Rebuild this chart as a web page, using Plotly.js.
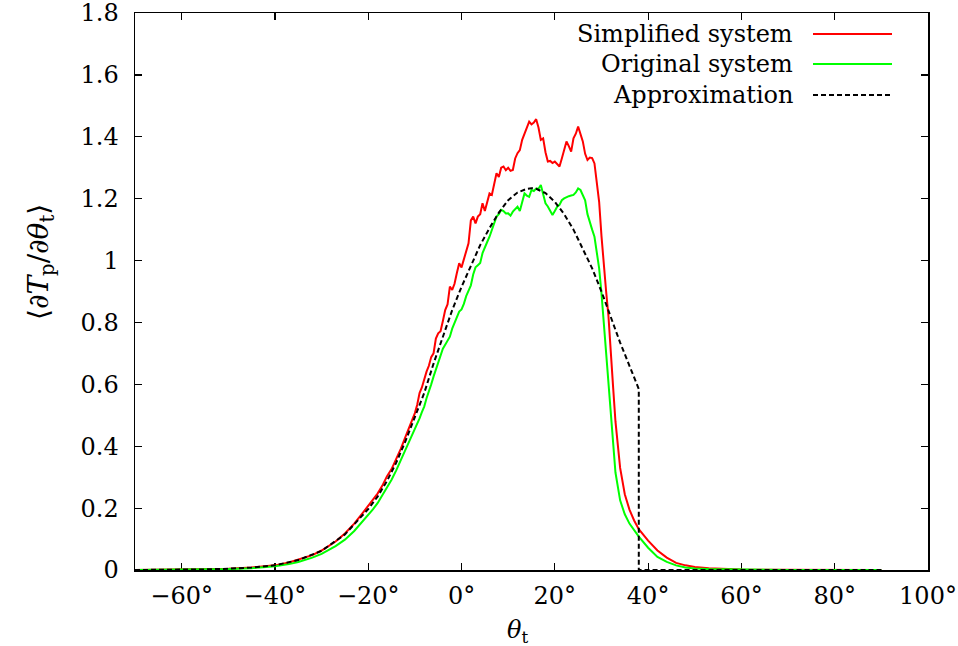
<!DOCTYPE html>
<html>
<head>
<meta charset="utf-8">
<script src="https://cdn.plot.ly/plotly-3.0.1.min.js"></script>
<style>html,body{margin:0;padding:0;background:#fff;}#chart{width:958px;height:646px;}</style>
</head>
<body>
<div id="chart"></div>
<script>
// shared angles for simulated series (degrees)
const theta = [
  -70,-65,-60,-55,-50,-45,-40,-37,-35,-32,
  -30,-27,-25,-23,-21,-20,-19,-18,-17,-16,
  -15,-14,-13,-12,-11,-10,-9.5,-9,-8.5,-8,
  -7.5,-7,-6.5,-6,-5.5,-5,-4.5,-4,-3.5,-3,
  -2.5,-2,-1.5,-1,-0.5,0,0.5,1,1.5,2,
  2.5,3,3.5,4,4.5,5,5.5,6,6.5,7,
  7.5,8,8.5,9,9.5,10,10.5,11,11.5,12,
  12.5,13,13.5,14,14.5,15,15.5,16,16.5,17,
  17.5,18,18.5,19,19.5,20,20.5,21,21.5,22,
  22.5,23,23.5,24,24.5,25,25.5,26,26.5,27,
  27.5,28,28.5,29,29.5,30,30.5,31,31.5,32,
  32.5,33,34,35,36,37,38,40,42,44,
  46,48,50,53,56,60,65,70,80,90
];
const simplified = [
  0,0.0005,0.001,0.002,0.004,0.008,0.015,0.024,0.033,0.048,
  0.063,0.092,0.118,0.150,0.188,0.207,0.226,0.247,0.272,0.302,
  0.326,0.358,0.392,0.431,0.466,0.507,0.534,0.572,0.590,0.618,
  0.641,0.660,0.688,0.700,0.748,0.765,0.772,0.805,0.840,0.858,
  0.916,0.905,0.925,0.960,0.991,0.978,1.002,1.030,1.056,1.130,
  1.142,1.120,1.142,1.150,1.185,1.160,1.190,1.217,1.212,1.250,
  1.282,1.270,1.300,1.304,1.292,1.300,1.290,1.293,1.330,1.347,
  1.357,1.390,1.411,1.425,1.449,1.440,1.446,1.457,1.430,1.390,
  1.395,1.350,1.320,1.322,1.315,1.320,1.312,1.304,1.330,1.360,
  1.385,1.370,1.352,1.395,1.410,1.433,1.410,1.385,1.345,1.325,
  1.333,1.331,1.314,1.260,1.190,1.080,0.980,0.900,0.820,0.720,
  0.590,0.480,0.330,0.245,0.195,0.160,0.132,0.095,0.063,0.040,
  0.023,0.015,0.010,0.006,0.004,0.002,0.001,0.0008,0.0003,0.0001
];
const original = [
  0,0.0003,0.0008,0.0015,0.003,0.006,0.012,0.019,0.026,0.040,
  0.052,0.077,0.098,0.126,0.160,0.178,0.196,0.216,0.240,0.266,
  0.292,0.322,0.355,0.388,0.420,0.456,0.470,0.490,0.510,0.528,
  0.555,0.575,0.600,0.625,0.648,0.668,0.690,0.715,0.728,0.742,
  0.754,0.780,0.800,0.818,0.835,0.842,0.860,0.885,0.905,0.920,
  0.955,0.978,0.985,0.992,1.024,1.045,1.060,1.077,1.100,1.118,
  1.142,1.150,1.164,1.160,1.152,1.153,1.145,1.158,1.165,1.174,
  1.160,1.185,1.217,1.210,1.206,1.228,1.225,1.233,1.232,1.244,
  1.215,1.185,1.175,1.160,1.147,1.160,1.174,1.180,1.195,1.201,
  1.205,1.208,1.210,1.212,1.220,1.233,1.228,1.210,1.195,1.150,
  1.120,1.100,1.077,1.030,0.975,0.895,0.800,0.715,0.610,0.500,
  0.400,0.315,0.225,0.180,0.150,0.127,0.108,0.072,0.042,0.026,
  0.015,0.008,0.005,0.003,0.002,0.001,0.0005,0.0003,0.0001,0
];
const thetaApprox = [
  -70,-65,-60,-55,-50,-45,-40,-35,-30,-25,
  -20,-18,-16,-14,-12,-10,-8,-6,-4,-2,
  0,2,4,6,8,10,12,14,15,16,
  18,20,22,24,26,28,30,32,34,36,
  38,38,90
];
const approximation = [
  0,0.0003,0.001,0.002,0.004,0.008,0.015,0.032,0.062,0.115,
  0.197,0.237,0.287,0.347,0.417,0.497,0.572,0.667,0.757,0.840,
  0.915,0.985,1.050,1.105,1.155,1.195,1.220,1.232,1.234,1.232,
  1.218,1.190,1.150,1.100,1.040,0.975,0.900,0.815,0.735,0.660,
  0.585,0,0
];
const seriesNames = ["Simplified system", "Original system", "Approximation"];
const xTicks = [-60,-40,-20,0,20,40,60,80,100];
const yTicks = [0,0.2,0.4,0.6,0.8,1,1.2,1.4,1.6,1.8];

const FONT = "DejaVu Serif";
const FS = 24;
const colors = ["#ff0000", "#00ff00", "#000000"];

const traces = [
  {x: theta, y: simplified, name: seriesNames[0], mode: "lines", line: {color: colors[0], width: 2}},
  {x: theta, y: original, name: seriesNames[1], mode: "lines", line: {color: colors[1], width: 2}},
  {x: thetaApprox, y: approximation, name: seriesNames[2], mode: "lines", line: {color: colors[2], width: 2, dash: "5px,3px"}}
];

// gnuplot-style legend: right-aligned text with line sample on the right
const L = 135, R = 928, T = 13, B = 570;
const px = v => (v - L) / (R - L);
const py = v => (B - v) / (B - T);
const rowsY = [34, 64, 95];
const annotations = [];
const shapes = [];
seriesNames.forEach((n, i) => {
  annotations.push({xref: "paper", yref: "paper", x: px(795), y: py(rowsY[i]), xanchor: "right", yanchor: "middle",
    text: n, showarrow: false, font: {family: FONT, size: FS, color: "#000"}});
  shapes.push({type: "line", xref: "paper", yref: "paper", x0: px(813), x1: px(892), y0: py(rowsY[i]), y1: py(rowsY[i]),
    line: {color: colors[i], width: 2, dash: i === 2 ? "5px,3px" : "solid"}});
});
annotations.push({xref: "paper", yref: "paper", x: px(517), y: py(631), xanchor: "center", yanchor: "middle",
  text: "<i>θ</i><sub>t</sub>", showarrow: false, font: {family: FONT, size: FS, color: "#000"}});
annotations.push({xref: "paper", yref: "paper", x: px(40), y: py(262), xanchor: "center", yanchor: "middle", textangle: -90,
  text: "⟨∂<i>T</i><sub>p</sub>/∂<i>θ</i><sub>t</sub>⟩", showarrow: false, font: {family: FONT, size: 28, color: "#000"}});

const axisCommon = {
  showline: true, linecolor: "#000", linewidth: 1.5, mirror: "ticks",
  ticks: "inside", ticklen: 7, tickwidth: 1.2, tickcolor: "#000",
  showgrid: false, zeroline: false, layer: "below traces",
  ticklabeloverflow: "allow",
  tickfont: {family: FONT, size: FS, color: "#000"}
};

const layout = {
  width: 958, height: 646,
  margin: {l: L, r: 958 - R, t: T, b: 646 - B, pad: 0},
  paper_bgcolor: "#fff", plot_bgcolor: "#fff",
  showlegend: false,
  font: {family: FONT, size: FS, color: "#000"},
  xaxis: Object.assign({}, axisCommon, {range: [-70, 100.001], tickvals: xTicks, ticktext: xTicks.map(v => (v < 0 ? "\u2212" + Math.abs(v) : v) + "°"), ticklabelstandoff: 4}),
  yaxis: Object.assign({}, axisCommon, {range: [0, 1.8001], tickvals: yTicks, ticktext: yTicks.map(v => String(v)), ticklabelstandoff: 10}),
  annotations: annotations,
  shapes: shapes
};

Plotly.newPlot("chart", traces, layout, {displayModeBar: false, staticPlot: true});
</script>
</body>
</html>
